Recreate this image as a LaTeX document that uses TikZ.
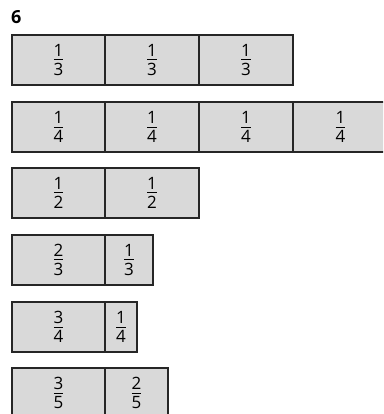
\documentclass[tikz,border=0pt]{standalone}
\usepackage{fontspec}
\setmainfont{Open Sans}
\newcommand\fr[2]{\vbox{\offinterlineskip\halign{\hfil##\hfil\cr #1\cr\noalign{\kern2.6pt}\rule{9.5pt}{0.9pt}\cr\noalign{\kern2.6pt}#2\cr}}}
\definecolor{cellgray}{HTML}{D9D9D9}
\tikzset{
  cellbox/.style={draw=black!85, line width=1.1pt, fill=cellgray, rectangle, inner sep=0pt, outer sep=0pt, minimum height=50pt, font=\fontsize{17}{17}\selectfont},
  qlabel/.style={font=\fontsize{18}{18}\selectfont\bfseries, anchor=base west, inner sep=0pt}
}
\begin{document}
\begin{tikzpicture}[x=1pt,y=-1pt]
\useasboundingbox (0,0) rectangle (383,414);
\clip (0,0) rectangle (383,414);
\node[qlabel] (q) at (11,23.5) {6};
% row 1: thirds
\node[cellbox, minimum width=93pt] (a1) at (58.5,60) {\fr{1}{3}};
\node[cellbox, minimum width=94pt] (a2) at (152,60) {\fr{1}{3}};
\node[cellbox, minimum width=94pt] (a3) at (246,60) {\fr{1}{3}};
% row 2: quarters (last cell runs past the right edge)
\node[cellbox, minimum width=93pt] (b1) at (58.5,127) {\fr{1}{4}};
\node[cellbox, minimum width=94pt] (b2) at (152,127) {\fr{1}{4}};
\node[cellbox, minimum width=94pt] (b3) at (246,127) {\fr{1}{4}};
\node[cellbox, minimum width=120pt, text width=120pt, align=left, text depth=0pt] (b4) at (353,127) {\hspace*{42.5pt}\fr{1}{4}};
% row 3: halves
\node[cellbox, minimum width=93pt] (c1) at (58.5,193) {\fr{1}{2}};
\node[cellbox, minimum width=94pt] (c2) at (152,193) {\fr{1}{2}};
% row 4
\node[cellbox, minimum width=93pt] (d1) at (58.5,260) {\fr{2}{3}};
\node[cellbox, minimum width=48pt] (d2) at (129,260) {\fr{1}{3}};
% row 5
\node[cellbox, minimum width=93pt] (e1) at (58.5,327) {\fr{3}{4}};
\node[cellbox, minimum width=32pt] (e2) at (121,327) {\fr{1}{4}};
% row 6
\node[cellbox, minimum width=93pt] (f1) at (58.5,393) {\fr{3}{5}};
\node[cellbox, minimum width=63pt] (f2) at (136.5,393) {\fr{2}{5}};
\end{tikzpicture}
\end{document}
